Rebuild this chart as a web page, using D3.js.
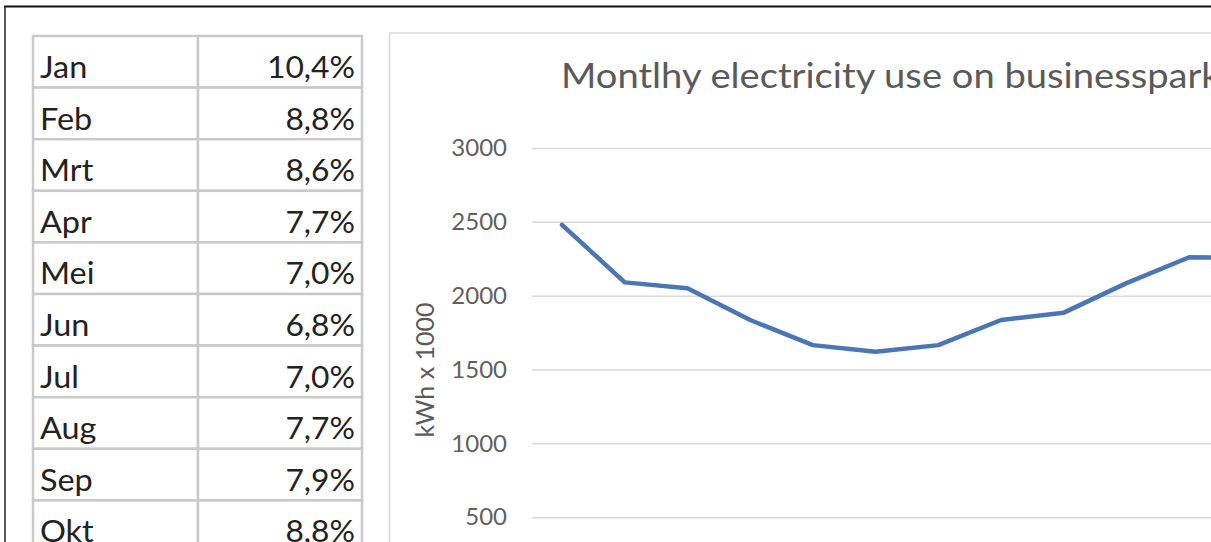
<!DOCTYPE html>
<html>
<head>
<meta charset="utf-8">
<script src="https://cdn.jsdelivr.net/npm/d3@7"></script>
<style>
  html, body { margin: 0; padding: 0; background: #fff; overflow: hidden; }
  svg { display: block; }
</style>
</head>
<body>
<svg id="chart" width="1211" height="542"></svg>
<script>
// ---- data ----
const tableMonths = ["Jan", "Feb", "Mrt", "Apr", "Mei", "Jun", "Jul", "Aug", "Sep", "Okt"];
const tableShares = ["10,4%", "8,8%", "8,6%", "7,7%", "7,0%", "6,8%", "7,0%", "7,7%", "7,9%", "8,8%"];
const chartMonths = ["Jan", "Feb", "Mrt", "Apr", "Mei", "Jun", "Jul", "Aug", "Sep", "Okt", "Nov", "Dec"];
const usage = [2480, 2090, 2050, 1835, 1665, 1620, 1665, 1835, 1885, 2085, 2260, 2255];
const yTicks = [500, 1000, 1500, 2000, 2500, 3000];
const chartTitle = "Montlhy electricity use on businesspark";
const yLabel = "kWh x 1000";

const svg = d3.select("#chart");
const W = 1211, H = 542;
const FONT = "Lato, 'Open Sans', sans-serif";

// ---- outer frame (black lines at top and left) ----
svg.append("line").attr("x1", 4).attr("x2", W).attr("y1", 6.5).attr("y2", 6.5)
  .attr("stroke", "#111").attr("stroke-width", 2);
svg.append("line").attr("x1", 5).attr("x2", 5).attr("y1", 6).attr("y2", H)
  .attr("stroke", "#222").attr("stroke-width", 1.5);

// ---- table ----
const tbl = svg.append("g");
const rowY = d3.scaleBand().domain(tableMonths).range([36, 36 + 51.6 * tableMonths.length]).padding(0);
const colX = [33, 198, 362];
const gridCol = "#c9c9c9";

tableMonths.forEach((m, i) => {
  const y0 = rowY(m);
  const h = rowY.bandwidth();
  tbl.append("rect").attr("x", colX[0]).attr("y", y0).attr("width", colX[1] - colX[0]).attr("height", h)
    .attr("fill", "#fff").attr("stroke", gridCol).attr("stroke-width", 2.5);
  tbl.append("rect").attr("x", colX[1]).attr("y", y0).attr("width", colX[2] - colX[1]).attr("height", h)
    .attr("fill", "#fff").attr("stroke", gridCol).attr("stroke-width", 2.5);
  tbl.append("text").attr("transform", `translate(40,${y0 + 42}) scale(1.08,1)`)
    .attr("font-family", FONT).attr("font-size", 30)
    .attr("fill", "#222").text(m);
  tbl.append("text").attr("transform", `translate(355,${y0 + 42}) scale(1.06,1)`).attr("text-anchor", "end")
    .attr("font-family", FONT).attr("font-size", 30)
    .attr("fill", "#222").text(tableShares[i]);
});

// ---- chart box ----
svg.append("rect").attr("x", 389.5).attr("y", 33).attr("width", W).attr("height", H)
  .attr("fill", "#fff").attr("stroke", "#dadada").attr("stroke-width", 1.5);

svg.append("text").attr("transform", "translate(561,88) scale(1.09,1)")
  .attr("font-family", FONT).attr("font-size", 35)
  .attr("fill", "#5a5a5a").text(chartTitle);

const y = d3.scaleLinear().domain([0, 3000]).range([591, 148]);
const x = d3.scalePoint().domain(chartMonths).range([562, 1252]);

const yAxis = d3.axisLeft(y).tickValues(yTicks).tickFormat(d3.format("d")).tickSize(-800).tickPadding(25);
const ag = svg.append("g").attr("transform", "translate(532,0)").call(yAxis);
ag.select(".domain").remove();
ag.selectAll(".tick line").attr("stroke", "#d9d9d9").attr("stroke-width", 1.5);
ag.selectAll(".tick text").attr("font-family", FONT)
  .attr("font-size", 24).attr("fill", "#606060");

svg.append("text")
  .attr("transform", "translate(434,370) rotate(-90)")
  .attr("text-anchor", "middle")
  .attr("font-family", FONT).attr("font-size", 25)
  .attr("fill", "#5a5a5a").text(yLabel);

const line = d3.line().x((d, i) => x(chartMonths[i])).y(d => y(d));
svg.append("path").datum(usage).attr("d", line)
  .attr("fill", "none").attr("stroke", "#4a76b6").attr("stroke-width", 4.5)
  .attr("stroke-linejoin", "round").attr("stroke-linecap", "round");
</script>
</body>
</html>
